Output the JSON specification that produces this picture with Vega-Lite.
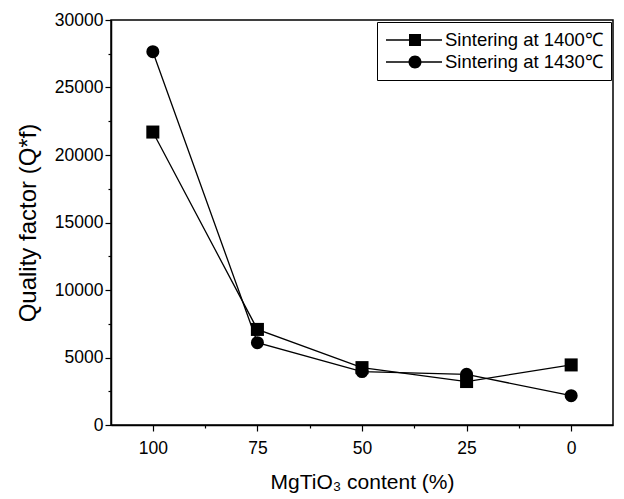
{
  "$schema": "https://vega.github.io/schema/vega-lite/v6.json",
  "width": 502,
  "height": 405,
  "autosize": "none",
  "padding": {"left": 111, "top": 20, "right": 11, "bottom": 74},
  "background": "white",
  "config": {
    "font": "Liberation Sans",
    "view": {"stroke": "black", "strokeWidth": 1.5}
  },
  "data": {
    "values": [
      {"content": 100, "Q": 21700, "series": "Sintering at 1400℃"},
      {"content": 75, "Q": 7080, "series": "Sintering at 1400℃"},
      {"content": 50, "Q": 4250, "series": "Sintering at 1400℃"},
      {"content": 25, "Q": 3220, "series": "Sintering at 1400℃"},
      {"content": 0, "Q": 4450, "series": "Sintering at 1400℃"},
      {"content": 100, "Q": 27650, "series": "Sintering at 1430℃"},
      {"content": 75, "Q": 6100, "series": "Sintering at 1430℃"},
      {"content": 50, "Q": 3960, "series": "Sintering at 1430℃"},
      {"content": 25, "Q": 3750, "series": "Sintering at 1430℃"},
      {"content": 0, "Q": 2170, "series": "Sintering at 1430℃"}
    ]
  },
  "encoding": {
    "x": {
      "field": "content", "type": "quantitative",
      "scale": {"domain": [-10, 110], "reverse": true, "nice": false, "zero": false},
      "axis": {
        "title": "MgTiO₃ content (%)",
        "values": [100, 87.5, 75, 62.5, 50, 37.5, 25, 12.5, 0],
        "labelExpr": "datum.value % 25 === 0 ? datum.label : ''",
        "tickSize": {"condition": {"test": "datum.value % 25 === 0", "value": 6}, "value": 3},
        "domainColor": "black", "domainWidth": 1.5, "tickColor": "black", "tickWidth": 1.2, "grid": false,
        "labelColor": "black", "titleColor": "black", "labelFontSize": 17.5, "titleFontSize": 21,
        "titleFontWeight": "normal", "labelFont": "Liberation Sans", "titleFont": "Liberation Sans",
        "labelPadding": 8, "titlePadding": 15
      }
    },
    "y": {
      "field": "Q", "type": "quantitative",
      "scale": {"domain": [0, 30000], "nice": false},
      "axis": {
        "title": "Quality factor (Q*f)",
        "values": [0, 2500, 5000, 7500, 10000, 12500, 15000, 17500, 20000, 22500, 25000, 27500, 30000],
        "labelExpr": "datum.value % 5000 === 0 ? datum.label : ''",
        "tickSize": {"condition": {"test": "datum.value % 5000 === 0", "value": 6}, "value": 3},
        "format": "d",
        "domainColor": "black", "domainWidth": 1.5, "tickColor": "black", "tickWidth": 1.2, "grid": false,
        "labelColor": "black", "titleColor": "black", "labelFontSize": 17.5, "titleFontSize": 24,
        "titleFontWeight": "normal", "labelFont": "Liberation Sans", "titleFont": "Liberation Sans",
        "labelPadding": 2, "titlePadding": 14
      }
    }
  },
  "layer": [
    {
      "mark": {"type": "line", "color": "black", "strokeWidth": 1.3},
      "encoding": {"detail": {"field": "series"}}
    },
    {
      "mark": {"type": "point", "filled": true, "color": "black", "opacity": 1},
      "encoding": {
        "shape": {
          "field": "series", "type": "nominal",
          "scale": {"range": ["square", "circle"]},
          "legend": null
        },
        "size": {"value": 170}
      }
    },
    {
      "transform": [{"filter": "datum.Q < 0"}],
      "mark": {"type": "point", "filled": true, "color": "black"},
      "encoding": {
        "shape": {
          "field": "series", "type": "nominal",
          "scale": {
            "domain": ["Sintering at 1400℃", "Sintering at 1430℃"],
            "range": [
              "M-0.9,-0.065H4.7V0.065H-0.9ZM1.4,-0.6H2.6V0.6H1.4Z",
              "M-0.9,-0.065H4.7V0.065H-0.9ZM1.35,0A0.65,0.65,0,1,1,2.65,0A0.65,0.65,0,1,1,1.35,0Z"
            ]
          },
          "legend": {
            "title": null, "orient": "none", "legendX": 266, "legendY": 2,
            "strokeColor": "black", "padding": 8, "labelFontSize": 18.5, "labelColor": "black",
            "labelFont": "Liberation Sans", "labelLimit": 400,
            "symbolSize": 400, "symbolFillColor": "black", "symbolStrokeWidth": 0,
            "symbolOpacity": 1, "rowPadding": 2, "labelOffset": 40
          }
        },
        "size": {"value": 400}
      }
    }
  ],
  "resolve": {"scale": {"shape": "independent"}}
}
